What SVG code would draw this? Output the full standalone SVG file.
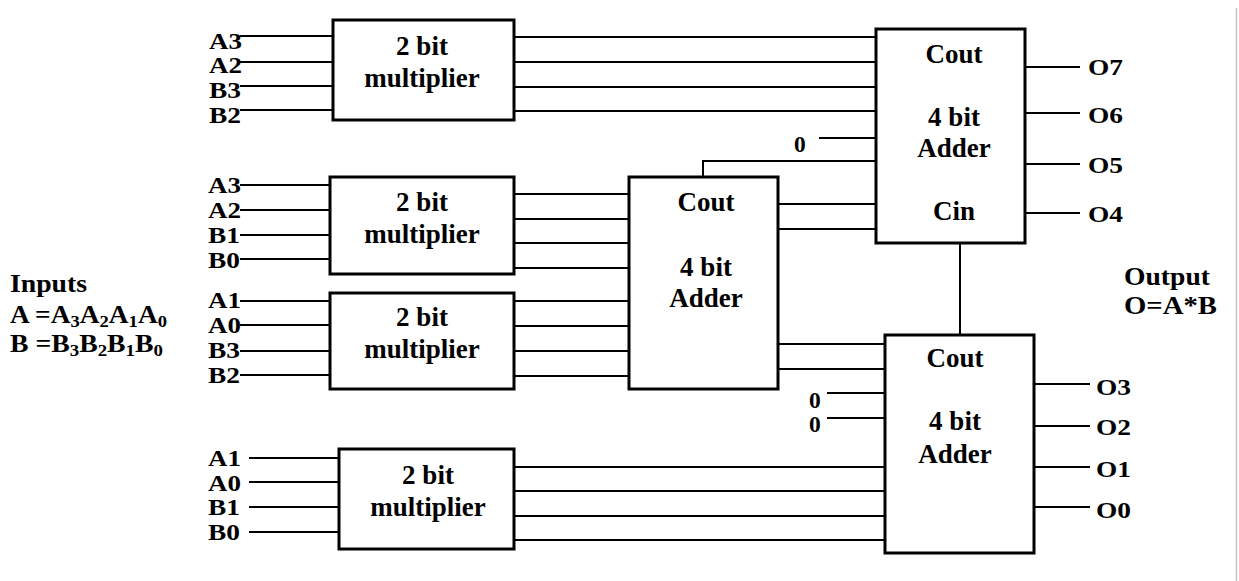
<svg xmlns="http://www.w3.org/2000/svg" width="1239" height="581" viewBox="0 0 1239 581">
<style>
.box{fill:#fff;stroke:#000;stroke-width:3}
.w{stroke:#000;stroke-width:2;fill:none}
text{font-family:"Liberation Serif","Times New Roman",serif;font-weight:bold;fill:#000}
.lbl{font-size:23.5px}
.big{font-size:25px}
.bt{font-size:27px;text-anchor:middle}
.sub{font-size:17px}
</style>
<rect width="1239" height="581" fill="#fff"/>
<line x1="1236.5" y1="8" x2="1236.5" y2="581" stroke="#c8c4c0" stroke-width="1.5"/>
<g id="connectors">
<path class="w" d="M240 36H333M240 62H333M240 86H333M240 110H333"/>
<path class="w" d="M514 37H876M514 62H876M514 87H876M514 111H876"/>
<path class="w" d="M819 138H876"/>
<path class="w" d="M703 177V161H876"/>
<path class="w" d="M778 204H876M778 229H876"/>
<path class="w" d="M1025 67H1080M1025 113H1080M1025 164H1080M1025 213H1080"/>
<path class="w" d="M960 243V335"/>
<path class="w" d="M240 185H330M240 210H330M240 235H330M240 259H330"/>
<path class="w" d="M514 194H629M514 219H629M514 243H629M514 268H629"/>
<path class="w" d="M240 301H330M240 325H330M240 351H330M240 375H330"/>
<path class="w" d="M514 301H629M514 326H629M514 351H629M514 376H629"/>
<path class="w" d="M778 344H885M778 369H885"/>
<path class="w" d="M827 393H885M827 418H885"/>
<path class="w" d="M249 458H339M249 482H339M249 507H339M249 532H339"/>
<path class="w" d="M514 467H885M514 491H885M514 516H885M514 540H885"/>
<path class="w" d="M1034 384H1090M1034 426H1090M1034 467H1090M1034 507H1090"/>
</g>
<g id="mult1">
<rect class="box" x="333" y="20" width="181" height="100"/>
<text class="bt" x="422" y="55">2 bit</text>
<text class="bt" x="422" y="87">multiplier</text>
<text class="lbl" x="209" y="49" textLength="33" lengthAdjust="spacingAndGlyphs">A3</text>
<text class="lbl" x="209" y="73" textLength="33" lengthAdjust="spacingAndGlyphs">A2</text>
<text class="lbl" x="209" y="98" textLength="32" lengthAdjust="spacingAndGlyphs">B3</text>
<text class="lbl" x="209" y="123" textLength="32" lengthAdjust="spacingAndGlyphs">B2</text>
</g>
<g id="mult2">
<rect class="box" x="330" y="177" width="184" height="97"/>
<text class="bt" x="422" y="211">2 bit</text>
<text class="bt" x="422" y="243">multiplier</text>
<text class="lbl" x="208" y="193" textLength="33" lengthAdjust="spacingAndGlyphs">A3</text>
<text class="lbl" x="208" y="218" textLength="33" lengthAdjust="spacingAndGlyphs">A2</text>
<text class="lbl" x="208" y="243" textLength="32" lengthAdjust="spacingAndGlyphs">B1</text>
<text class="lbl" x="208" y="268" textLength="32" lengthAdjust="spacingAndGlyphs">B0</text>
</g>
<g id="mult3">
<rect class="box" x="330" y="293" width="184" height="96"/>
<text class="bt" x="422" y="326">2 bit</text>
<text class="bt" x="422" y="358">multiplier</text>
<text class="lbl" x="208" y="308" textLength="33" lengthAdjust="spacingAndGlyphs">A1</text>
<text class="lbl" x="208" y="333" textLength="33" lengthAdjust="spacingAndGlyphs">A0</text>
<text class="lbl" x="208" y="358" textLength="32" lengthAdjust="spacingAndGlyphs">B3</text>
<text class="lbl" x="208" y="383" textLength="32" lengthAdjust="spacingAndGlyphs">B2</text>
</g>
<g id="mult4">
<rect class="box" x="339" y="449" width="175" height="100"/>
<text class="bt" x="428" y="484">2 bit</text>
<text class="bt" x="428" y="516">multiplier</text>
<text class="lbl" x="208" y="466" textLength="33" lengthAdjust="spacingAndGlyphs">A1</text>
<text class="lbl" x="208" y="491" textLength="33" lengthAdjust="spacingAndGlyphs">A0</text>
<text class="lbl" x="208" y="515" textLength="32" lengthAdjust="spacingAndGlyphs">B1</text>
<text class="lbl" x="208" y="540" textLength="32" lengthAdjust="spacingAndGlyphs">B0</text>
</g>
<g id="adderTop">
<rect class="box" x="876" y="29" width="149" height="214"/>
<text class="bt" x="954" y="63">Cout</text>
<text class="bt" x="954" y="126">4 bit</text>
<text class="bt" x="954" y="157">Adder</text>
<text class="bt" x="954" y="220">Cin</text>
<text class="lbl" x="794" y="152">0</text>
<text class="lbl" x="1088" y="75" textLength="35" lengthAdjust="spacingAndGlyphs">O7</text>
<text class="lbl" x="1088" y="123" textLength="35" lengthAdjust="spacingAndGlyphs">O6</text>
<text class="lbl" x="1088" y="173" textLength="35" lengthAdjust="spacingAndGlyphs">O5</text>
<text class="lbl" x="1088" y="222" textLength="35" lengthAdjust="spacingAndGlyphs">O4</text>
</g>
<g id="adderMid">
<rect class="box" x="629" y="177" width="149" height="212"/>
<text class="bt" x="706" y="211">Cout</text>
<text class="bt" x="706" y="276">4 bit</text>
<text class="bt" x="706" y="307">Adder</text>
</g>
<g id="adderBottom">
<rect class="box" x="885" y="335" width="149" height="218"/>
<text class="bt" x="955" y="367">Cout</text>
<text class="bt" x="955" y="430">4 bit</text>
<text class="bt" x="955" y="463">Adder</text>
<text class="lbl" x="809" y="408">0</text>
<text class="lbl" x="809" y="432">0</text>
<text class="lbl" x="1096" y="395" textLength="35" lengthAdjust="spacingAndGlyphs">O3</text>
<text class="lbl" x="1096" y="435" textLength="35" lengthAdjust="spacingAndGlyphs">O2</text>
<text class="lbl" x="1096" y="477" textLength="35" lengthAdjust="spacingAndGlyphs">O1</text>
<text class="lbl" x="1096" y="518" textLength="35" lengthAdjust="spacingAndGlyphs">O0</text>
</g>
<g id="inputsLabel">
<text class="big" x="10" y="292" textLength="77" lengthAdjust="spacingAndGlyphs">Inputs</text>
<text class="big" x="10" y="323" textLength="157" lengthAdjust="spacingAndGlyphs">A =A<tspan class="sub" dy="4">3</tspan><tspan dy="-4">A</tspan><tspan class="sub" dy="4">2</tspan><tspan dy="-4">A</tspan><tspan class="sub" dy="4">1</tspan><tspan dy="-4">A</tspan><tspan class="sub" dy="4">0</tspan></text>
<text class="big" x="10" y="352" textLength="153" lengthAdjust="spacingAndGlyphs">B =B<tspan class="sub" dy="4">3</tspan><tspan dy="-4">B</tspan><tspan class="sub" dy="4">2</tspan><tspan dy="-4">B</tspan><tspan class="sub" dy="4">1</tspan><tspan dy="-4">B</tspan><tspan class="sub" dy="4">0</tspan></text>
</g>
<g id="outputLabel">
<text class="big" x="1124" y="285" textLength="86" lengthAdjust="spacingAndGlyphs">Output</text>
<text class="big" x="1124" y="314" textLength="93" lengthAdjust="spacingAndGlyphs">O=A*B</text>
</g>
</svg>
